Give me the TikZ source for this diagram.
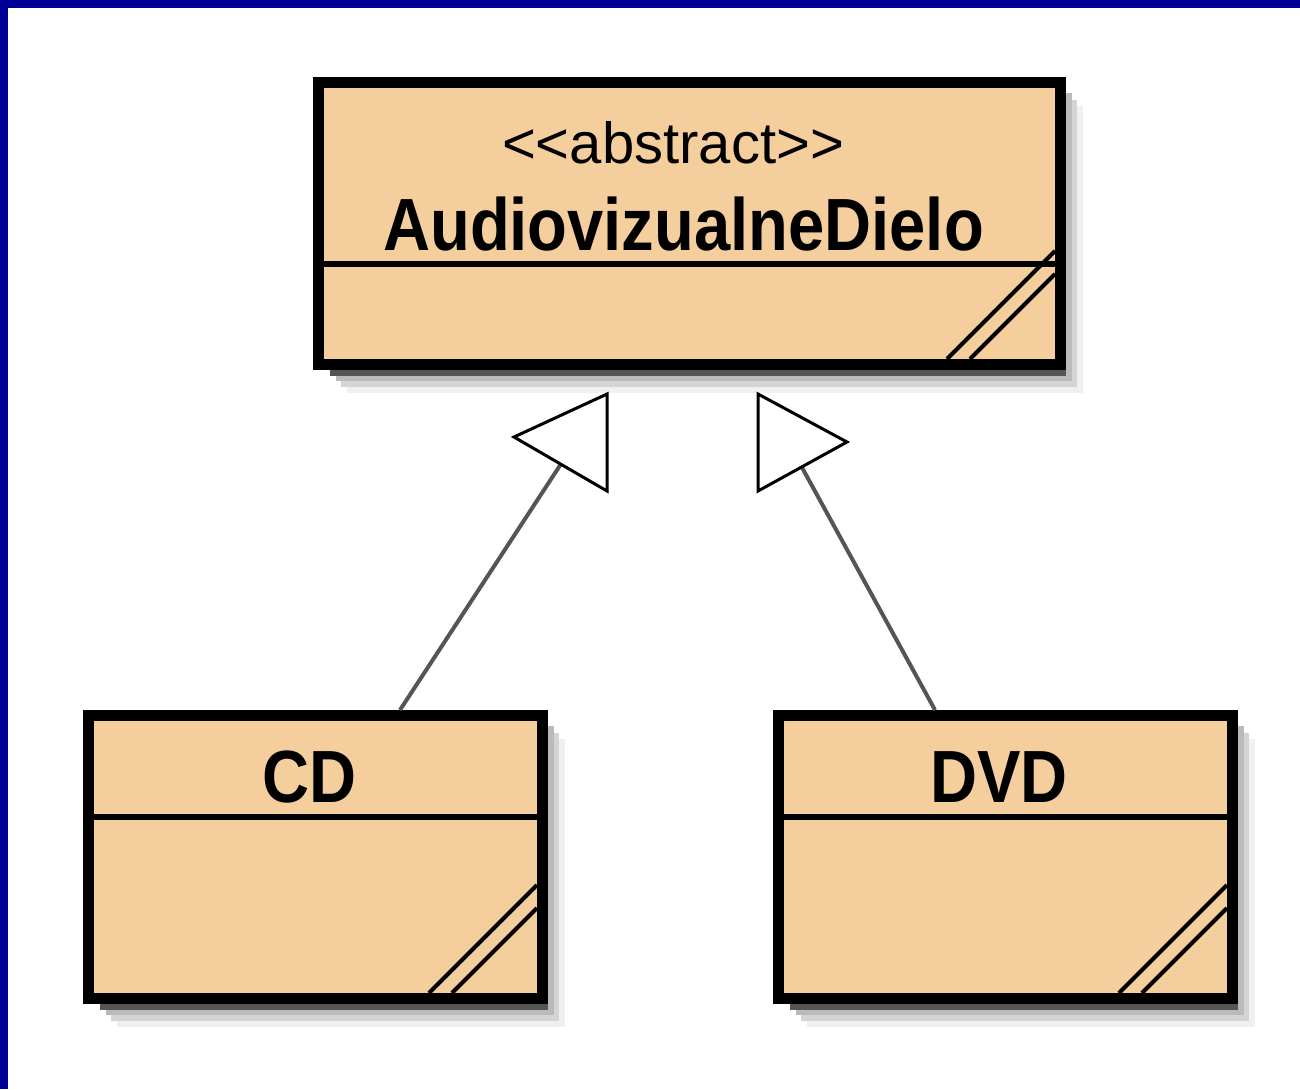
\documentclass[tikz,border=0pt]{standalone}
\usepackage{fontspec}
\setmainfont{Liberation Sans}
\newfontfamily\classfont[FakeStretch=0.88]{Liberation Sans}
\usetikzlibrary{calc,backgrounds}
\definecolor{classfill}{RGB}{245,206,158}
\definecolor{frameblue}{RGB}{0,0,153}
\definecolor{linegray}{RGB}{85,85,85}
\tikzset{
  classbox/.style={draw,fill=classfill,line width=5.5pt,minimum width=371pt,minimum height=141pt,inner sep=0pt},
  leafbox/.style={classbox,minimum width=227pt,minimum height=141.5pt},
  classname/.style={inner sep=0pt,anchor=base,font=\classfont\bfseries\fontsize{37}{40}\selectfont},
  stereo/.style={inner sep=0pt,anchor=base,font=\fontsize{29}{32}\selectfont},
  divider/.style={line width=3pt},
  hatch/.style={line width=2pt},
  genline/.style={line width=2pt,color=linegray},
  genhead/.style={line width=1.5pt,fill=white,line join=miter}
}
% layered drop shadow below and right of a class box
\newcommand\boxshadow[1]{%
  \fill[black!6] ($(#1.north west)+(34,29)$) rectangle ($(#1.south east)+(17,23)$);
  \fill[black!17] ($(#1.north west)+(28,23)$) rectangle ($(#1.south east)+(11,17)$);
  \fill[black!27] ($(#1.north west)+(23,16)$) rectangle ($(#1.south east)+(6,11)$);
  \fill[linegray] ($(#1.north west)+(17,10)$) rectangle ($(#1.south east)+(0,6)$);
}
% resize marks in the lower right corner
\newcommand\boxhatch[1]{%
  \draw[hatch] ($(#1.south east)+(-119,-11)$) -- ($(#1.south east)+(-11,-119)$);
  \draw[hatch] ($(#1.south east)+(-96,-11)$) -- ($(#1.south east)+(-11,-96)$);
}
\begin{document}
\begin{tikzpicture}[x=0.5pt,y=-0.5pt]
  \useasboundingbox (0,0) rectangle (1300,1089);
  \fill[frameblue] (0,0) rectangle (8,1089);
  \fill[frameblue] (0,0) rectangle (1300,8);

  % classes
  \node[classbox] (dielo) at (689.5,223.5) {};
  \node[leafbox] (cd) at (315.5,857) {};
  \node[leafbox] (dvd) at (1005.5,857) {};
  \begin{scope}[on background layer]
    \boxshadow{dielo}
    \boxshadow{cd}
    \boxshadow{dvd}
  \end{scope}

  \draw[divider] ($(dielo.north west)+(0,187)$) -- ($(dielo.north east)+(0,187)$);
  \draw[divider] ($(cd.north west)+(0,107)$) -- ($(cd.north east)+(0,107)$);
  \draw[divider] ($(dvd.north west)+(0,107)$) -- ($(dvd.north east)+(0,107)$);
  \boxhatch{dielo}
  \boxhatch{cd}
  \boxhatch{dvd}

  \node[stereo] (dielost) at ($(dielo.north)+(-16.5,86)$) {<\kern0pt<abstract>\kern0pt>};
  \node[classname] (dieloname) at ($(dielo.north)+(-6,173)$) {AudiovizualneDielo};
  \node[classname] (cdname) at ($(cd.north)+(-5.5,92)$) {CD};
  \node[classname] (dvdname) at ($(dvd.north)+(-6.5,92)$) {DVD};

  % generalizations
  \coordinate (cdfoot) at ($(cd.north west)+(317,0)$);
  \coordinate (dvdfoot) at ($(dvd.north west)+(162,0)$);
  \coordinate (genL) at ($(dielo.south)+(-113.5,71)$);
  \coordinate (genR) at ($(dielo.south)+(98.5,72)$);
  \draw[genline] (cdfoot) -- (genL);
  \draw[genline] (dvdfoot) -- (genR);
  \filldraw[genhead] ($(genL)+(31,-47)$) -- ($(genL)+(31,50)$) -- ($(genL)+(-62,-4)$) -- cycle;
  \filldraw[genhead] ($(genR)+(-30,-48)$) -- ($(genR)+(-30,49)$) -- ($(genR)+(59,0)$) -- cycle;
\end{tikzpicture}
\end{document}
